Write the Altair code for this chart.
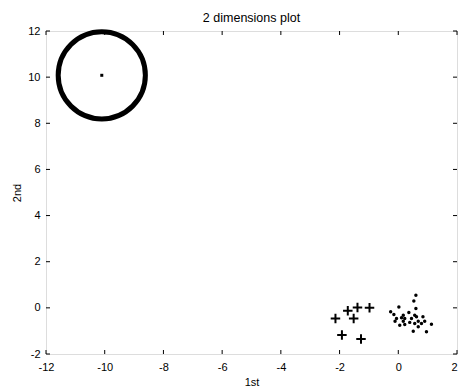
import altair as alt
import pandas as pd

# ---- data ----
plus_x = [-2.14, -1.72, -1.39, -0.98, -1.52, -1.92, -1.27]
plus_y = [-0.46, -0.13, 0.02, 0.00, -0.46, -1.18, -1.35]

dot_x = [0.60, 0.53, 0.02, 0.60, -0.26, -0.15, 0.17, 0.36, 0.56, -0.06,
         0.11, 0.22, 0.45, 0.62, 0.84, -0.11, 0.17, 0.68, 0.90, 0.39,
         0.56, 0.05, 0.22, 0.79, 1.13, 0.68, 0.51, 0.96]
dot_y = [0.55, 0.30, 0.04, -0.03, -0.17, -0.29, -0.32, -0.20, -0.32, -0.46,
         -0.43, -0.46, -0.46, -0.39, -0.39, -0.58, -0.58, -0.58, -0.58, -0.63,
         -0.68, -0.75, -0.72, -0.68, -0.71, -0.82, -1.01, -1.04]

center_x = [-10.1]
center_y = [10.08]

x_ticks = [-12, -10, -8, -6, -4, -2, 0, 2]
y_ticks = [-2, 0, 2, 4, 6, 8, 10, 12]

W, H = 411, 323
FONT = "Liberation Sans"
TICK = 4

xs = alt.Scale(domain=[-12, 2], nice=False, zero=False)
ys = alt.Scale(domain=[-2, 12], nice=False, zero=False)

plus_df = pd.DataFrame({"x": plus_x, "y": plus_y})
dot_df = pd.DataFrame({"x": dot_x, "y": dot_y})
cen_df = pd.DataFrame({"x": center_x, "y": center_y})
xt_df = pd.DataFrame({"v": x_ticks})
yt_df = pd.DataFrame({"v": y_ticks})

x_axis = alt.Axis(values=x_ticks, title="1st", grid=False, ticks=False, domain=False,
                  labelExpr="'' + datum.value", labelPadding=7, labelFontSize=11,
                  labelFlush=False, labelOverlap=False,
                  labelAlign={"condition": {"test": "datum.value == 2", "value": "right"},
                              "value": "center"},
                  labelFont=FONT, labelColor="black", titleFont=FONT, titleFontSize=11,
                  titleFontWeight="normal", titleColor="black", titlePadding=4)
y_axis = alt.Axis(values=y_ticks, title="2nd", grid=False, ticks=False, domain=False,
                  labelExpr="'' + datum.value", labelPadding=6, labelFontSize=11,
                  labelFlush=False, labelOverlap=False,
                  labelFont=FONT, labelColor="black", titleFont=FONT, titleFontSize=11,
                  titleFontWeight="normal", titleColor="black", titlePadding=5)

base_pts = alt.Chart(dot_df).mark_point(filled=True, shape="circle", size=12,
                                        color="black", opacity=1).encode(
    x=alt.X("x:Q", scale=xs, axis=x_axis),
    y=alt.Y("y:Q", scale=ys, axis=y_axis),
)

pluses = alt.Chart(plus_df).mark_point(shape="M-1,0L1,0M0,-1L0,1", size=90,
                                       strokeWidth=2, color="black", opacity=1,
                                       filled=False).encode(
    x=alt.X("x:Q", scale=xs), y=alt.Y("y:Q", scale=ys))

ring = alt.Chart(cen_df).mark_point(shape="circle", size=7600, strokeWidth=5,
                                    color="black", filled=False, opacity=1).encode(
    x=alt.X("x:Q", scale=xs), y=alt.Y("y:Q", scale=ys))

center = alt.Chart(cen_df).mark_point(shape="square", size=9, filled=True,
                                      color="black", opacity=1).encode(
    x=alt.X("x:Q", scale=xs), y=alt.Y("y:Q", scale=ys))

bt = alt.Chart(xt_df).mark_rule(color="black", strokeWidth=1).encode(
    x=alt.X("v:Q", scale=xs), y=alt.value(H), y2=alt.value(H - TICK))
tt = alt.Chart(xt_df).mark_rule(color="black", strokeWidth=1).encode(
    x=alt.X("v:Q", scale=xs), y=alt.value(0), y2=alt.value(TICK))
lt = alt.Chart(yt_df).mark_rule(color="black", strokeWidth=1).encode(
    y=alt.Y("v:Q", scale=ys), x=alt.value(0), x2=alt.value(TICK))
rt = alt.Chart(yt_df).mark_rule(color="black", strokeWidth=1).encode(
    y=alt.Y("v:Q", scale=ys), x=alt.value(W), x2=alt.value(W - TICK))

chart = alt.layer(base_pts, pluses, ring, center, bt, tt, lt, rt).properties(
    width=W, height=H,
    title=alt.TitleParams("2 dimensions plot", font=FONT, fontSize=12.5,
                          fontWeight="normal", color="black", offset=7, dy=10,
                          anchor="middle", frame="group"),
    autosize=alt.AutoSizeParams(type="none"),
    padding={"left": 38, "top": 23, "right": 1, "bottom": 33},
).configure_view(stroke="black", strokeWidth=1).configure(background="white")

chart.save("out.html", embed_options={"renderer": "svg", "actions": False})
